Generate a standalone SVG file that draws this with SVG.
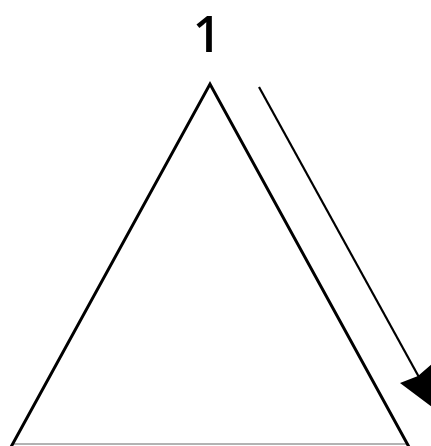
<svg xmlns="http://www.w3.org/2000/svg" width="431" height="446" viewBox="0 0 431 446">
<style>
.edge{fill:none;stroke:#000;stroke-width:3;stroke-linejoin:miter}
.base{stroke:#9a9a9a;stroke-width:1.5}
.arr{stroke:#000;stroke-width:2.2}
.lbl{font-family:"Open Sans","Liberation Sans",sans-serif;font-size:50px;font-weight:600;fill:#000}
</style>
<rect width="431" height="446" fill="#fff"/>
<g id="triangle">
<line class="base" x1="14" y1="444" x2="406" y2="444"/>
<polyline class="edge" points="11,447 210,84 409,447"/>
</g>
<g id="label">
<text class="lbl" x="207" y="52" text-anchor="middle">1</text>
</g>
<g id="connectors">
<line class="arr" x1="259" y1="87" x2="420" y2="379"/>
<polygon points="400,383 418,376 434,362 436,410" fill="#000"/>
</g>
</svg>
